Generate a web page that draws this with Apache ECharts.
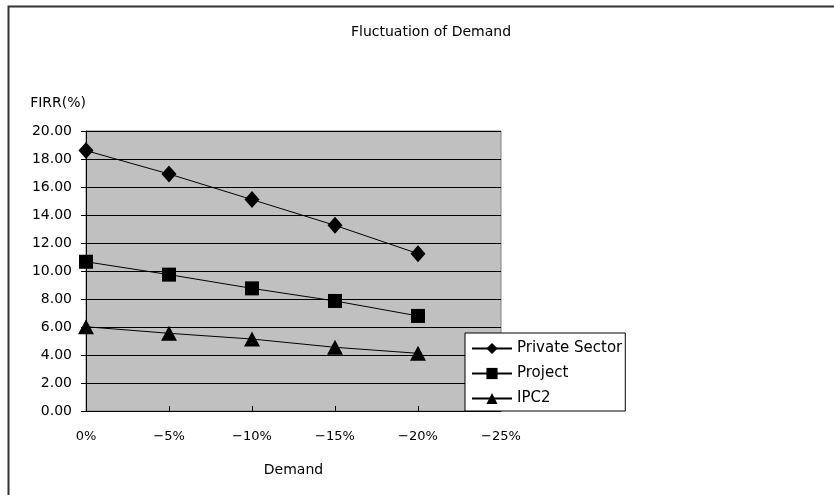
<!DOCTYPE html>
<html>
<head>
<meta charset="utf-8">
<script src="https://cdn.jsdelivr.net/npm/echarts@6/dist/echarts.min.js"></script>
<style>
  html, body { margin: 0; padding: 0; background: #fff; }
  #chart { width: 834px; height: 495px; }
</style>
</head>
<body>
<div id="chart"></div>
<script>
// Demand scenarios along the x axis
var demandCases = ['0%', '\u22125%', '\u221210%', '\u221215%', '\u221220%', '\u221225%'];

// FIRR (%) for each scenario
var privateSector = [18.60, 16.93, 15.10, 13.26, 11.24];
var project       = [10.66, 9.74, 8.76, 7.86, 6.79];
var ipc2          = [6.02, 5.55, 5.14, 4.55, 4.12];

var fontFamily = '"DejaVu Sans", "Liberation Sans", sans-serif';

var chart = echarts.init(document.getElementById('chart'), null, { renderer: 'canvas' });

function lineSeries(name, data, symbol, size) {
  return {
    name: name,
    type: 'line',
    data: data,
    symbol: symbol,
    symbolSize: size,
    showAllSymbol: true,
    lineStyle: { color: '#000', width: 1 },
    itemStyle: { color: '#000', borderColor: '#000', borderWidth: 0 },
    emphasis: { disabled: true },
    z: 3
  };
}

chart.setOption({
  animation: false,
  backgroundColor: '#fff',
  textStyle: { fontFamily: fontFamily, color: '#000' },
  title: {
    text: 'Fluctuation of Demand',
    left: 426,
    top: 20,
    textAlign: 'center',
    textStyle: { fontSize: 14, fontWeight: 'normal', color: '#000', fontFamily: fontFamily }
  },
  graphic: [{
    type: 'rect',
    shape: { x: 8.5, y: 6.5, width: 840, height: 500 },
    style: { fill: 'none', stroke: '#333', lineWidth: 2 },
    silent: true,
    z: -1
  }],
  legend: {
    orient: 'vertical',
    left: 465,
    top: 333,
    itemWidth: 40,
    itemHeight: 14,
    itemGap: 10,
    padding: [8, 3, 5, 6],
    backgroundColor: '#fff',
    borderColor: '#000',
    borderWidth: 1,
    borderRadius: 0,
    textStyle: { fontSize: 15, color: '#000', fontFamily: fontFamily },
    data: ['Private Sector', 'Project', 'IPC2']
  },
  grid: {
    left: 86,
    top: 131,
    right: 333,
    bottom: 84,
    show: true,
    backgroundColor: '#c0c0c0',
    borderColor: '#808080',
    borderWidth: 1
  },
  xAxis: {
    type: 'category',
    data: demandCases,
    boundaryGap: false,
    name: 'Demand',
    nameLocation: 'middle',
    nameGap: 52,
    nameTextStyle: { fontSize: 14, color: '#000' },
    axisLine: { lineStyle: { color: '#000', width: 1 } },
    axisTick: { show: true, alignWithLabel: true, inside: true, length: 5, lineStyle: { color: '#000' } },
    axisLabel: { fontSize: 13, color: '#000', margin: 19, showMaxLabel: true, showMinLabel: true, interval: 0 },
    splitLine: { show: false }
  },
  yAxis: {
    type: 'value',
    min: 0,
    max: 20,
    interval: 2,
    name: 'FIRR(%)',
    nameLocation: 'end',
    nameGap: 21,
    nameTextStyle: { fontSize: 14, color: '#000', align: 'right', padding: [0, 0, 0, 0] },
    axisLine: { show: true, lineStyle: { color: '#000', width: 1 } },
    axisTick: { show: true, length: 5, lineStyle: { color: '#000' } },
    axisLabel: {
      fontSize: 14,
      color: '#000',
      margin: 14,
      formatter: function (v) { return v.toFixed(2); }
    },
    splitLine: { show: true, lineStyle: { color: '#000', width: 1 } }
  },
  series: [
    lineSeries('Private Sector', privateSector, 'diamond', [15, 17]),
    lineSeries('Project', project, 'rect', 14),
    lineSeries('IPC2', ipc2, 'triangle', [16, 15])
  ]
});
</script>
</body>
</html>
